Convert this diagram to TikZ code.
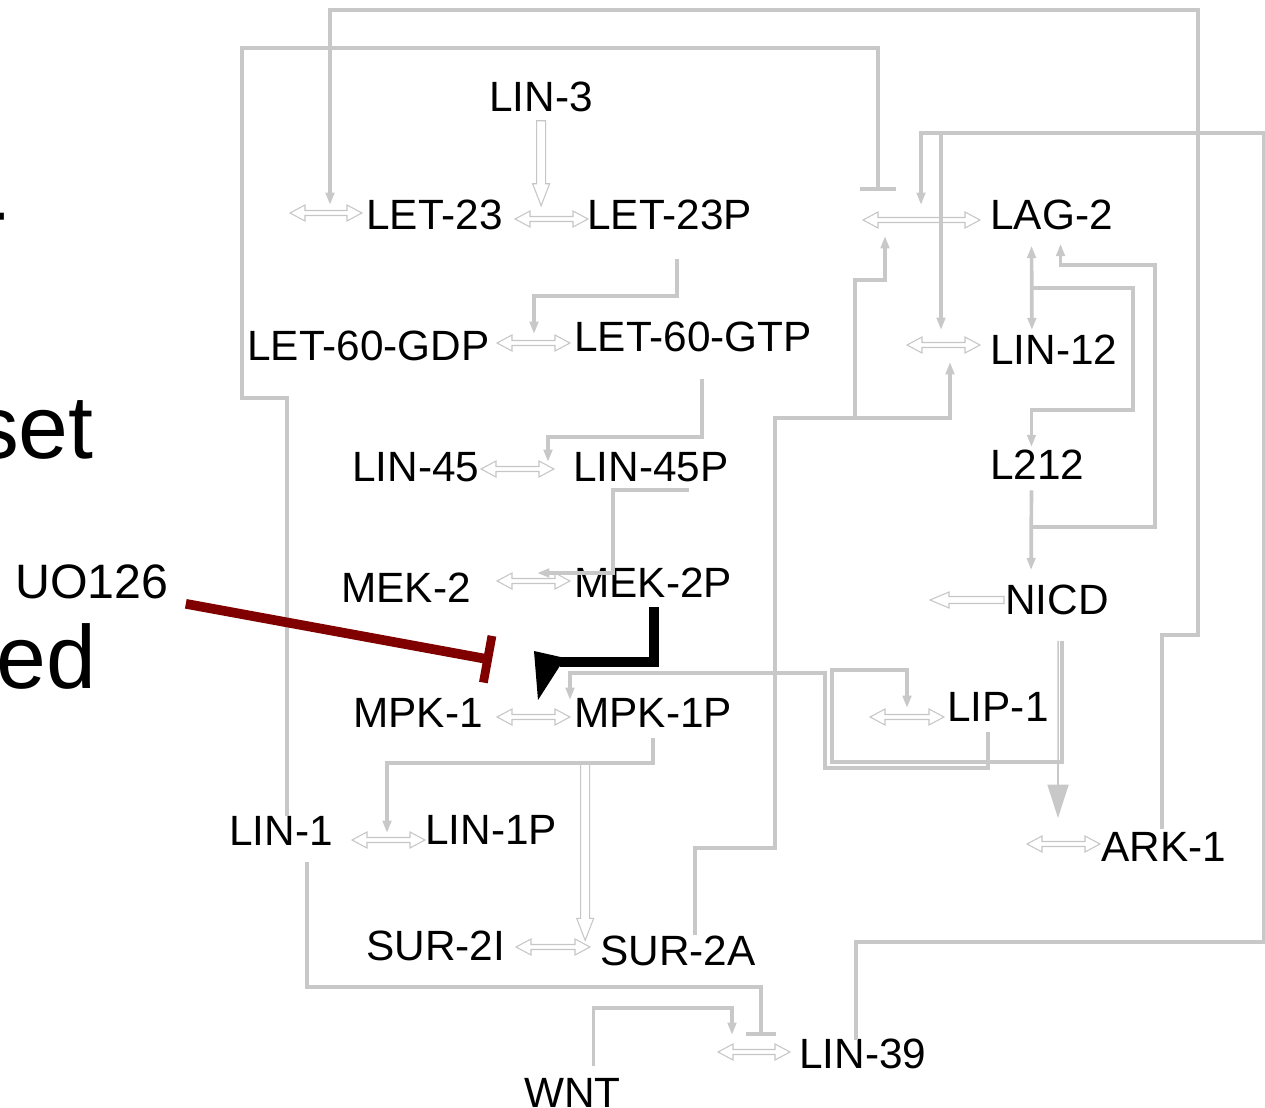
\documentclass[tikz,border=0pt]{standalone}
\usepackage{fontspec}
\setmainfont{Liberation Sans}
\usetikzlibrary{arrows.meta,calc}
\definecolor{linkgray}{RGB}{200,200,200}
\definecolor{rxngray}{RGB}{198,198,198}
\definecolor{darkred}{RGB}{128,0,0}
\tikzset{
  gene/.style={anchor=base west, inner sep=0pt, font=\fontsize{24.1pt}{29pt}\selectfont},
  big/.style={anchor=base east, inner sep=0pt, font=\fontsize{51pt}{60pt}\selectfont},
  link/.style={draw=linkgray, line width=2.1pt},
  act/.style={link, -{Triangle[length=7pt, width=4.8pt]}},
  inh/.style={link, -{Bar[width=#1, line width=2.5pt]}},
  inh/.default=20pt,
  rxnline/.style={draw=rxngray, line width=0.6pt, fill=white},
  % reversible reaction, #1 = length
  pics/rxn/.style={code={
    \draw[rxnline] (0,0) -- (15,-8) -- (15,-2.5) -- ({#1-15},-2.5) -- ({#1-15},-8)
      -- (#1,0) -- ({#1-15},8) -- ({#1-15},2.5) -- (15,2.5) -- (15,8) -- cycle;}},
  % one-way reaction pointing left
  pics/rxnleft/.style={code={
    \draw[rxnline] (0,0) -- (19,-8) -- (19,-3.5) -- (#1,-3.5) -- (#1,3.5)
      -- (19,3.5) -- (19,8) -- cycle;}},
  % hollow arrow pointing down
  pics/hollowdown/.style={code={
    \draw[rxnline] (-4.5,0) -- (4.5,0) -- (4.5,{#1-22}) -- (8.5,{#1-22}) -- (0,#1)
      -- (-8.5,{#1-22}) -- (-4.5,{#1-22}) -- cycle;}},
}
\begin{document}
\begin{tikzpicture}[x=0.02cm, y=-0.02cm, line join=miter]
  \useasboundingbox (0,0) rectangle (1265,1108);

  % species
  \node[gene] (lin3) at (489,112) {LIN-3};
  \node[gene] (let23) at (366,230) {LET-23};
  \node[gene] (let23p) at (587,230) {LET-23P};
  \node[gene] (lag2) at (990,230) {LAG-2};
  \node[gene] (let60gdp) at (247,360) {LET-60-GDP};
  \node[gene] (let60gtp) at (574,352) {LET-60-GTP};
  \node[gene] (lin12) at (990,364) {LIN-12};
  \node[gene] (lin45) at (352,481) {LIN-45};
  \node[gene] (lin45p) at (573,481) {LIN-45P};
  \node[gene] (l212) at (990,479) {L212};
  \node[gene] (mek2) at (341,602) {MEK-2};
  \node[gene] (mek2p) at (574,597) {MEK-2P};
  \node[gene] (nicd) at (1005,614) {NICD};
  \node[gene, font=\fontsize{27.5pt}{32pt}\selectfont] (uo126) at (15,598) {UO126};
  \node[gene] (mpk1) at (353,727) {MPK-1};
  \node[gene] (mpk1p) at (574,727) {MPK-1P};
  \node[gene] (lip1) at (947,721) {LIP-1};
  \node[gene] (lin1) at (229,845) {LIN-1};
  \node[gene] (lin1p) at (425,844) {LIN-1P};
  \node[gene] (ark1) at (1101,861) {ARK-1};
  \node[gene] (sur2i) at (366,960) {SUR-2I};
  \node[gene] (sur2a) at (600,965) {SUR-2A};
  \node[gene] (lin39) at (799,1068) {LIN-39};
  \node[gene] (wnt) at (524,1107) {WNT};

  % cut-off slide text on the left
  \node[big] (dash) at (9,241) {-};
  \node[big] (set) at (94,458) {set};
  \node[big] (ed) at (97,688) {ed};

  % reactions
  \pic at (290,213) {rxn=72};
  \pic at (515,219) {rxn=73};
  \pic at (863,220) {rxn=117};
  \pic at (497,343) {rxn=73};
  \pic at (907,345) {rxn=73};
  \pic at (481,469) {rxn=73};
  \pic at (497,581) {rxn=73};
  \pic at (930,600) {rxnleft=74};
  \pic at (497,717) {rxn=73};
  \pic at (870,717) {rxn=74};
  \pic at (352,840) {rxn=73};
  \pic at (1027,844) {rxn=73};
  \pic at (516,947) {rxn=74};
  \pic at (718,1052) {rxn=72};
  \pic at ($(lin3.south)+(0,8)$) {hollowdown=85};
  \pic at ($(mpk1p.south)+(-68,36)$) {hollowdown=177};

  % influences
  \draw[act] ($(ark1.north)+(-2,-3)$) |- (1198,635) |- (330,10) -- (330,205);
  \draw[inh] ($(lin1.north)+(6,0)$) |- (242,398) |- (878,48) -- (878,191);
  \draw[act] ($(lin39.north)+(-7,2)$) |- (1264,942) |- (921,133) -- (921,205);
  \draw[act] (941,133) -- (941,330);
  \draw[act] ($(sur2a.north)+(17,0)$) |- (775,848) |- (950,418) -- (950,362);
  \draw[act] (855,418) |- (885,280) -- (885,236);
  \draw[link, {Triangle[length=7pt, width=4.8pt]}-{Triangle[length=7pt, width=4.8pt]}]
    ($(lag2.south)+(-20,15)$) -- ($(lin12.north)+(-22,-4)$);
  \draw[act] (1031,288) -| (1133,410) -| ($(l212.north)+(-6,-2)$);
  \draw[act] ($(l212.south)+(-6,11)$) -- ($(nicd.north)+(-26,-14)$);
  \draw[act] (1031,527) -| (1155,265) -| ($(lag2.south)+(9,13)$);
  \draw[act] ($(let23p.south)+(7,28)$) |- (534,296) -- (534,334);
  \draw[act] ($(let60gtp.south)+(9,26)$) |- (548,437) -- (548,462);
  \draw[act] ($(lin45p.south)+(38,8)$) -| (613,573) -- (537,573);
  \draw[act] ($(lip1.south)+(-10,11)$) |- (825,768) |- (570,673) -- (570,700);
  \draw[act] ($(nicd.south)+(5,26)$) |- (832,762) |- (907,670) -- (907,708);
  \draw[draw=linkgray, line width=0.9pt, -{Triangle[length=19pt, width=12pt]}]
    ($(nicd.south)+(1,26)$) -- (1058,818);
  \draw[act] ($(mpk1p.south)+(0,11)$) |- (387,763) -- (387,833);
  \draw[inh=17pt] ($(lin1.south)+(26,17)$) |- (761,987) -- (761,1036);
  \draw[act] ($(wnt.north)+(21,-12)$) |- (732,1008) -- (732,1035);

  % MEK-2P acts on MPK-1
  \draw[line width=5.7pt] ($(mek2p.south)+(1,10)$) |- (560,662);
  \fill (534,651) -- (565,658) -- (538,700) -- cycle;

  % UO126 blocks MPK-1
  \draw[draw=darkred, line width=5.5pt, -{Bar[width=27pt, line width=5pt]}]
    ($(uo126.south east)+(17,5)$) -- (492,660);
\end{tikzpicture}
\end{document}
